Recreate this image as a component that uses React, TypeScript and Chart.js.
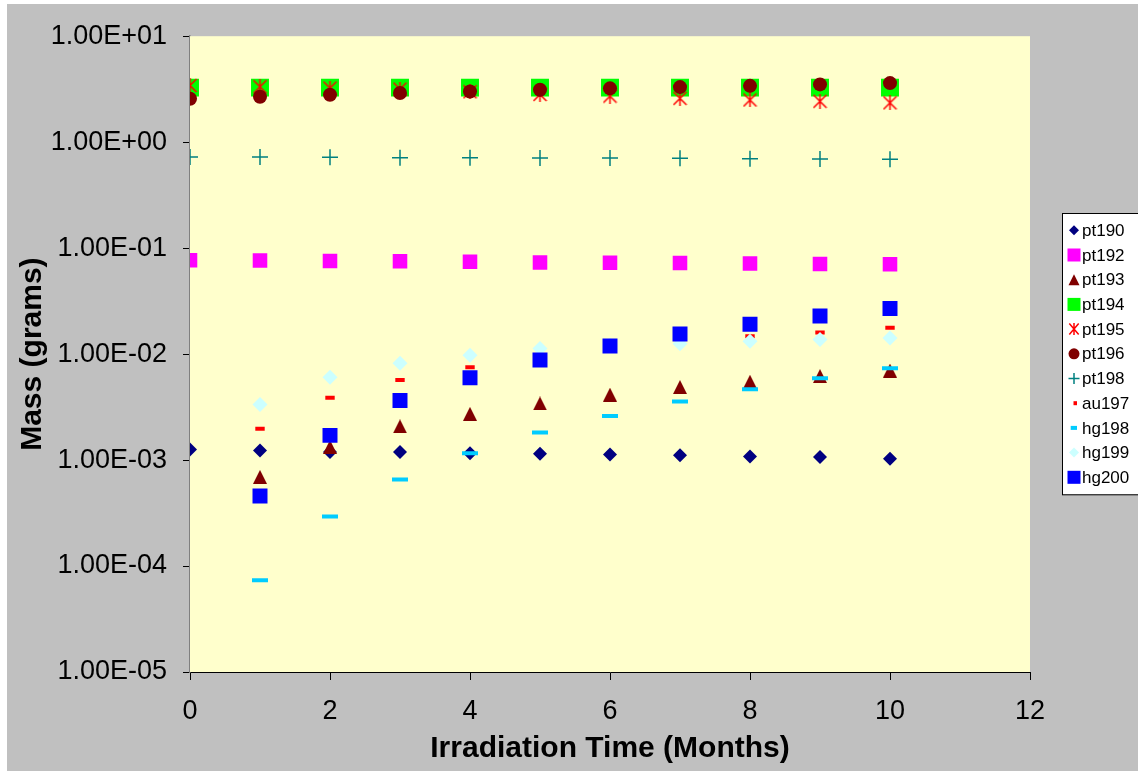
import React, { useEffect, useRef } from 'react';
import { Chart, registerables } from 'chart.js';

Chart.register(...registerables);

// ---- Data ----
const months = [0, 1, 2, 3, 4, 5, 6, 7, 8, 9, 10];
const seriesNames = ['pt190', 'pt192', 'pt193', 'pt194', 'pt195', 'pt196', 'pt198', 'au197', 'hg198', 'hg199', 'hg200'];

const pt190 = [1.26e-3, 1.23e-3, 1.19e-3, 1.19e-3, 1.16e-3, 1.15e-3, 1.13e-3, 1.11e-3, 1.08e-3, 1.07e-3, 1.03e-3];
const pt192 = [0.0768, 0.0765, 0.0755, 0.0752, 0.0743, 0.0732, 0.0727, 0.0724, 0.0715, 0.0707, 0.0705];
const pt193 = [null, 6.94e-4, 1.33e-3, 2.08e-3, 2.73e-3, 3.42e-3, 4.14e-3, 4.89e-3, 5.49e-3, 6.21e-3, 6.99e-3];
const pt194 = [3.27, 3.27, 3.27, 3.27, 3.27, 3.27, 3.27, 3.27, 3.27, 3.27, 3.27];
const pt195 = [3.43, 3.33, 3.24, 3.17, 2.99, 2.82, 2.72, 2.59, 2.5, 2.43, 2.35];
const pt196 = [2.57, 2.68, 2.8, 2.91, 3.01, 3.12, 3.22, 3.31, 3.4, 3.51, 3.61];
const pt198 = [0.725, 0.725, 0.72, 0.714, 0.714, 0.709, 0.709, 0.705, 0.699, 0.694, 0.69];
const au197 = [null, 1.98e-3, 3.87e-3, 5.71e-3, 7.52e-3, 9.2e-3, 0.011, 0.0128, 0.0147, 0.016, 0.0177];
const hg198 = [null, 7.36e-5, 2.94e-4, 6.57e-4, 1.16e-3, 1.82e-3, 2.6e-3, 3.57e-3, 4.66e-3, 5.92e-3, 7.35e-3];
const hg199 = [null, 3.34e-3, 6.05e-3, 8.18e-3, 9.75e-3, 0.0113, 0.0121, 0.0125, 0.0132, 0.0137, 0.0142];
const hg200 = [null, 4.58e-4, 1.71e-3, 3.65e-3, 5.97e-3, 8.81e-3, 0.0119, 0.0155, 0.0191, 0.0229, 0.027];

const allSeries = [pt190, pt192, pt193, pt194, pt195, pt196, pt198, au197, hg198, hg199, hg200];

const yTickValues = [1e-5, 1e-4, 1e-3, 1e-2, 1e-1, 1, 10];
const yTickLabels = ['1.00E-05', '1.00E-04', '1.00E-03', '1.00E-02', '1.00E-01', '1.00E+00', '1.00E+01'];
const xTickValues = [0, 2, 4, 6, 8, 10, 12];

const xTitle = 'Irradiation Time (Months)';
const yTitle = 'Mass (grams)';

const FONT = '"Liberation Sans", Arial, sans-serif';

// ---- Marker helpers ----
function makeTriangle(w: number, h: number, color: string) {
  const c = document.createElement('canvas');
  c.width = w;
  c.height = h;
  const g = c.getContext('2d')!;
  g.fillStyle = color;
  g.beginPath();
  g.moveTo(w / 2, 0);
  g.lineTo(w, h);
  g.lineTo(0, h);
  g.closePath();
  g.fill();
  return c;
}

function makeAsterisk(w: number, h: number, color: string, lw: number) {
  const c = document.createElement('canvas');
  c.width = w;
  c.height = h;
  const g = c.getContext('2d')!;
  g.strokeStyle = color;
  g.lineWidth = lw;
  g.beginPath();
  g.moveTo(1, 1);
  g.lineTo(w - 1, h - 1);
  g.moveTo(w - 1, 1);
  g.lineTo(1, h - 1);
  g.moveTo(w / 2, 0);
  g.lineTo(w / 2, h);
  g.stroke();
  return c;
}

type Style = { color: string; kind: string; size: number; lw?: number; lsize: number };
const styles: Style[] = [
  { color: '#000080', kind: 'diamond', size: 7, lsize: 5 },
  { color: '#FF00FF', kind: 'square', size: 10.3, lsize: 6.5 },
  { color: '#800000', kind: 'triangle', size: 14, lsize: 11 },
  { color: '#00FF00', kind: 'square', size: 12.7, lsize: 6.5 },
  { color: '#FF0000', kind: 'asterisk', size: 15, lsize: 11 },
  { color: '#800000', kind: 'circle', size: 7, lsize: 5.5 },
  { color: '#008080', kind: 'plus', size: 8, lw: 1.5, lsize: 5.5 },
  { color: '#FF0000', kind: 'dash', size: 4.7, lw: 4, lsize: 3.5 },
  { color: '#00CCFF', kind: 'dash', size: 8, lw: 4, lsize: 6.3 },
  { color: '#CCFFFF', kind: 'diamond', size: 7.5, lsize: 5 },
  { color: '#0000FF', kind: 'square', size: 10.6, lsize: 6.5 },
];

function drawLegendMarker(ctx: CanvasRenderingContext2D, s: Style, x: number, y: number) {
  const r = s.lsize;
  ctx.save();
  ctx.fillStyle = s.color;
  ctx.strokeStyle = s.color;
  ctx.beginPath();
  switch (s.kind) {
    case 'diamond':
      ctx.moveTo(x, y - r);
      ctx.lineTo(x + r, y);
      ctx.lineTo(x, y + r);
      ctx.lineTo(x - r, y);
      ctx.closePath();
      ctx.fill();
      break;
    case 'square':
      ctx.fillRect(x - r, y - r, 2 * r, 2 * r);
      break;
    case 'triangle':
      ctx.moveTo(x, y - r / 2);
      ctx.lineTo(x + r / 2, y + r / 2);
      ctx.lineTo(x - r / 2, y + r / 2);
      ctx.closePath();
      ctx.fill();
      break;
    case 'asterisk': {
      const h = r / 2;
      ctx.lineWidth = 1.5;
      ctx.moveTo(x - h * 0.85, y - h);
      ctx.lineTo(x + h * 0.85, y + h);
      ctx.moveTo(x + h * 0.85, y - h);
      ctx.lineTo(x - h * 0.85, y + h);
      ctx.moveTo(x, y - h - 0.5);
      ctx.lineTo(x, y + h + 0.5);
      ctx.stroke();
      break;
    }
    case 'circle':
      ctx.arc(x, y, r, 0, Math.PI * 2);
      ctx.fill();
      break;
    case 'plus':
      ctx.lineWidth = 1.5;
      ctx.moveTo(x - r, y);
      ctx.lineTo(x + r, y);
      ctx.moveTo(x, y - r);
      ctx.lineTo(x, y + r);
      ctx.stroke();
      break;
    case 'dash':
      ctx.fillRect(x + 3 - r, y - 2, r, 4);
      break;
  }
  ctx.restore();
}

const plotBg = {
  id: 'plotBg',
  beforeDatasetsDraw(chart: any) {
    const { ctx, chartArea } = chart;
    ctx.save();
    ctx.fillStyle = '#FFFFCC';
    ctx.fillRect(chartArea.left, chartArea.top, chartArea.right - chartArea.left, chartArea.bottom - chartArea.top);
    ctx.restore();
  },
};

const legendBox = {
  id: 'legendBox',
  afterDraw(chart: any) {
    const ctx: CanvasRenderingContext2D = chart.ctx;
    const left = 1055;
    const top = 209;
    const rowY0 = 226.3;
    const step = 24.7;
    const bottom = rowY0 + step * (seriesNames.length - 1) + 17;
    ctx.save();
    ctx.fillStyle = '#FFFFFF';
    ctx.fillRect(left, top, 200, bottom - top);
    ctx.strokeStyle = '#000000';
    ctx.lineWidth = 1;
    ctx.strokeRect(left + 0.5, top + 0.5, 200, bottom - top);
    ctx.font = `17px ${FONT}`;
    ctx.fillStyle = '#000000';
    ctx.textBaseline = 'middle';
    ctx.textAlign = 'left';
    seriesNames.forEach((name, i) => {
      const y = rowY0 + step * i;
      drawLegendMarker(ctx, styles[i], 1067, y);
      ctx.fillStyle = '#000000';
      ctx.fillText(name, 1075, y + 1);
    });
    ctx.restore();
  },
};

export default function App() {
  const ref = useRef<HTMLCanvasElement>(null);

  useEffect(() => {
    document.body.style.margin = '0';
    Chart.defaults.font.family = FONT;

    const tri = makeTriangle(14, 14, '#800000');
    const ast = makeAsterisk(15, 15, '#FF0000', 1.5);

    const datasets = allSeries.map((series, i) => {
      const s = styles[i];
      const data = months
        .map((m, j) => (series[j] == null ? null : { x: m, y: series[j] as number }))
        .filter((p) => p !== null);
      let pointStyle: any = 'circle';
      let radius = s.size;
      let bw = 0;
      switch (s.kind) {
        case 'diamond': pointStyle = 'rectRot'; break;
        case 'square': pointStyle = 'rect'; break;
        case 'triangle': pointStyle = tri; radius = 7; break;
        case 'asterisk': pointStyle = ast; radius = 7; break;
        case 'circle': pointStyle = 'circle'; break;
        case 'plus': pointStyle = 'cross'; bw = s.lw || 1.5; break;
        case 'dash': pointStyle = 'line'; bw = s.lw || 4; break;
      }
      return {
        label: seriesNames[i],
        data,
        order: allSeries.length - i,
        showLine: false,
        pointStyle,
        pointRadius: radius,
        pointHoverRadius: radius,
        pointBackgroundColor: s.color,
        pointBorderColor: s.color,
        pointBorderWidth: bw,
      };
    });

    const chart = new Chart(ref.current!, {
      type: 'scatter',
      data: { datasets: datasets as any },
      plugins: [plotBg, legendBox],
      options: {
        responsive: false,
        animation: false,
        devicePixelRatio: 1,
        events: [],
        layout: { padding: { top: 31, right: 108, left: 0, bottom: 0 } },
        plugins: {
          legend: { display: false },
          tooltip: { enabled: false },
        },
        scales: {
          x: {
            type: 'linear',
            min: 0,
            max: 12,
            afterBuildTicks: (s: any) => {
              s.ticks = xTickValues.map((v) => ({ value: v }));
            },
            afterFit: (s: any) => {
              s.height = 99;
            },
            ticks: {
              color: '#000000',
              font: { size: 27, family: FONT },
              padding: 15,
              maxRotation: 0,
              autoSkip: false,
            },
            grid: { drawOnChartArea: false, drawTicks: true, tickLength: 8, tickColor: '#000000', tickWidth: 1 },
            border: { display: true, color: '#000000', width: 1 },
            title: {
              display: true,
              text: xTitle,
              color: '#000000',
              font: { size: 30, weight: 'bold', family: FONT },
              padding: { top: 0, bottom: 4 },
            },
          },
          y: {
            type: 'logarithmic',
            min: 1e-5,
            max: 10,
            afterBuildTicks: (s: any) => {
              s.ticks = yTickValues.map((v) => ({ value: v }));
            },
            afterFit: (s: any) => {
              s.width = 183;
            },
            ticks: {
              color: '#000000',
              font: { size: 27, family: FONT },
              padding: 16,
              autoSkip: false,
              callback: (v: any) => {
                const idx = yTickValues.findIndex((t) => Math.abs(Math.log10(t) - Math.log10(Number(v))) < 1e-6);
                return idx >= 0 ? yTickLabels[idx] : '';
              },
            },
            grid: { drawOnChartArea: false, drawTicks: true, tickLength: 7, tickColor: '#000000', tickWidth: 1 },
            border: { display: true, color: '#808080', width: 1.5 },
            title: {
              display: true,
              text: yTitle,
              color: '#000000',
              font: { size: 30, weight: 'bold', family: FONT },
              padding: { top: 8, bottom: 0 },
            },
          },
        },
      } as any,
    });

    return () => chart.destroy();
  }, []);

  return (
    <div style={{ position: 'fixed', left: 0, top: 0, width: 1138, height: 771, background: '#FFFFFF', overflow: 'hidden' }}>
      <div style={{ position: 'absolute', left: 7, top: 4, width: 1131, height: 767, background: '#C0C0C0' }}>
        <canvas ref={ref} width={1131} height={767} style={{ display: 'block', width: 1131, height: 767 }} />
      </div>
    </div>
  );
}
